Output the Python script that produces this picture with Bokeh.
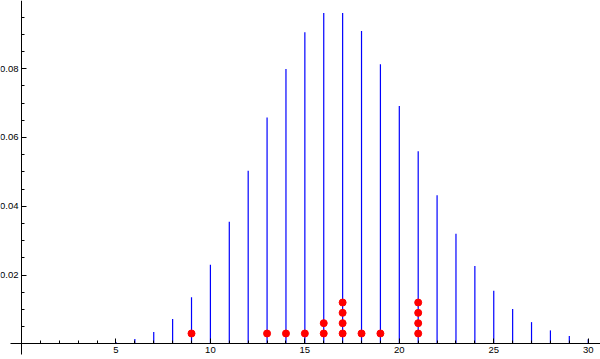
from bokeh.plotting import figure
from bokeh.models import Range1d, LinearAxis, FixedTicker
from bokeh.embed import file_html
from bokeh.resources import INLINE

# Probability values (stems at k = 1..30)
k_values = list(range(1, 31))
probabilities = [
    0.0000007, 0.000006, 0.00003, 0.00014, 0.0005, 0.0014, 0.0034, 0.0072,
    0.0135, 0.0230, 0.0355, 0.0503, 0.0658, 0.0799, 0.0906, 0.0962,
    0.0962, 0.0909, 0.0813, 0.0691, 0.0560, 0.0432, 0.0320, 0.0226,
    0.0154, 0.0101, 0.0063, 0.0039, 0.0023, 0.0013,
]

# Red sample points (stacked counts)
dot_x = [9, 13, 14, 15, 16, 16, 17, 17, 17, 17, 18, 19, 21, 21, 21, 21]
dot_y = [0.003, 0.003, 0.003, 0.003, 0.003, 0.006, 0.003, 0.006, 0.009, 0.012,
         0.003, 0.003, 0.003, 0.006, 0.009, 0.012]

x_ticks = [5, 10, 15, 20, 25, 30]
x_minor = [v for v in range(1, 31) if v % 5 != 0]
y_ticks = [0.02, 0.04, 0.06, 0.08]
y_minor = [0.005, 0.01, 0.015, 0.025, 0.03, 0.035, 0.045, 0.05, 0.055,
           0.065, 0.07, 0.075, 0.085, 0.09, 0.095]

p = figure(width=600, height=359, output_backend="svg", toolbar_location=None,
           x_axis_type=None, y_axis_type=None, min_border=0,
           x_range=Range1d(-1.112, 30.651), y_range=Range1d(-0.004564, 0.0998))
p.outline_line_color = None
p.background_fill_color = "white"
p.border_fill_color = "white"
p.xgrid.visible = False
p.ygrid.visible = False

p.segment(x0=k_values, y0=[0] * len(k_values), x1=k_values, y1=probabilities,
          line_color="#0000ff", line_width=1.2)
p.scatter(dot_x, dot_y, size=7, fill_color="#ff0000", line_color="#ff0000")

font = "Liberation Sans"

xaxis = LinearAxis(ticker=FixedTicker(ticks=x_ticks, minor_ticks=x_minor))
xaxis.fixed_location = 0
xaxis.bounds = (-0.58, 30.651)
yaxis = LinearAxis(ticker=FixedTicker(ticks=y_ticks, minor_ticks=y_minor))
yaxis.fixed_location = 0
yaxis.bounds = (-0.0031, 0.0998)

for ax in (xaxis, yaxis):
    ax.axis_line_color = "black"
    ax.axis_line_width = 1
    ax.major_tick_in = 5
    ax.major_tick_out = 0
    ax.minor_tick_in = 3
    ax.minor_tick_out = 0
    ax.major_tick_line_color = "black"
    ax.minor_tick_line_color = "black"
    ax.major_label_text_font = font
    ax.major_label_text_font_size = "9.5px"
    ax.major_label_text_color = "black"
    ax.major_label_standoff = 3

p.add_layout(xaxis, "below")
p.add_layout(yaxis, "left")

open("out.html", "w").write(file_html(p, INLINE))
